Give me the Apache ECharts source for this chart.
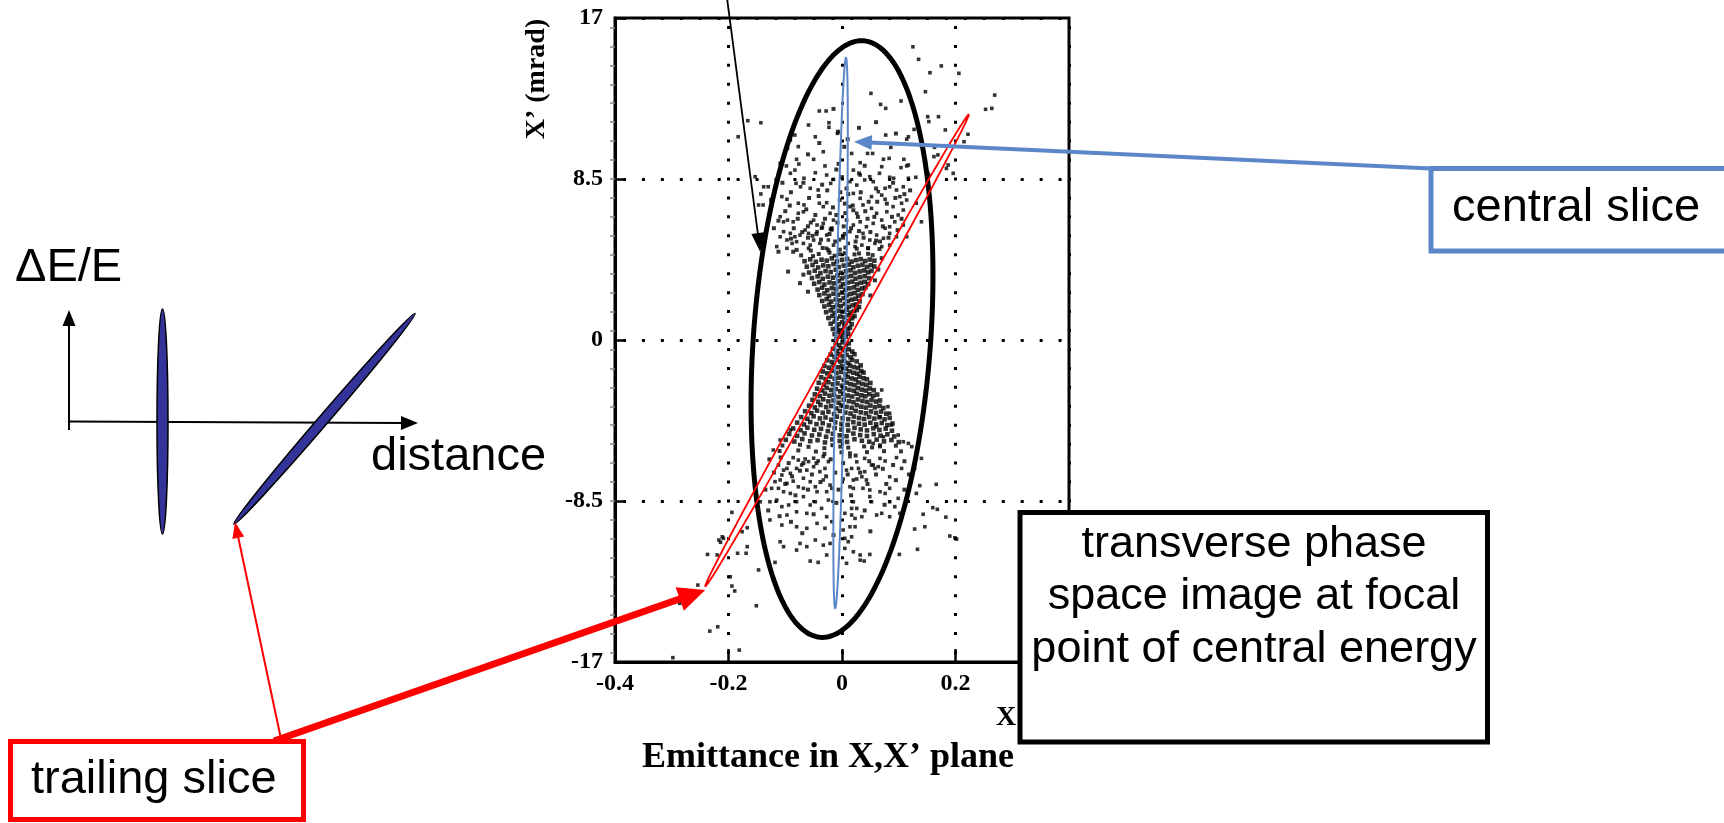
<!DOCTYPE html>
<html>
<head>
<meta charset="utf-8">
<title>Emittance in X,X’ plane</title>
<script src="https://cdn.jsdelivr.net/npm/echarts@6/dist/echarts.min.js"></script>
<style>
  html, body { margin: 0; padding: 0; background: #fff; }
  #chart { width: 1724px; height: 823px; }
</style>
</head>
<body>
<div id="chart"></div>
<script>
// ---- axes ----
const xTicks = [-0.4, -0.2, 0, 0.2, 0.4];          // X (mm)
const yTicks = [-17, -8.5, 0, 8.5, 17];             // X' (mrad)
const yMinorTicks = [-16.5, -15.5, -14.5, -13.5, -12.5, -11.5, -10.5, -9.5, -8.5, -7.5, -6.5, -5.5, -4.5, -3.5, -2.5, -1.5, -0.5,
  0.5, 1.5, 2.5, 3.5, 4.5, 5.5, 6.5, 7.5, 8.5, 9.5, 10.5, 11.5, 12.5, 13.5, 14.5, 15.5, 16.5];

// ---- particles: dense core of the bunch (x in mm, x' in mrad) ----
const corePoints = [
  [-0.010,0.05],[-0.004,0.18],[0.002,0.02],[0.007,0.16],
  [-0.013,0.31],[-0.007,0.44],[-0.001,0.27],[0.005,0.40],[0.011,0.33],
  [-0.016,0.58],[-0.009,0.66],[-0.003,0.52],[0.004,0.71],[0.010,0.57],[0.014,0.64],
  [-0.020,0.86],[-0.013,0.97],[-0.006,0.83],[0.000,0.94],[0.006,0.88],[0.012,1.01],[0.017,0.84],
  [-0.024,1.16],[-0.017,1.27],[-0.010,1.13],[-0.003,1.24],[0.004,1.19],[0.011,1.31],[0.018,1.15],[0.022,1.26],
  [-0.028,1.47],[-0.020,1.56],[-0.013,1.43],[-0.006,1.54],[0.001,1.49],[0.008,1.60],[0.015,1.45],[0.021,1.53],[0.026,1.58],
  [-0.031,1.77],[-0.023,1.86],[-0.016,1.73],[-0.009,1.84],[-0.002,1.79],[0.005,1.91],[0.012,1.75],[0.019,1.83],[0.025,1.88],[0.030,1.74],
  [-0.035,2.06],[-0.027,2.16],[-0.019,2.03],[-0.011,2.14],[-0.004,2.09],[0.003,2.21],[0.010,2.05],[0.017,2.13],[0.024,2.18],[0.031,2.04],
  [-0.040,2.37],[-0.031,2.46],[-0.023,2.33],[-0.015,2.44],[-0.007,2.39],[0.000,2.51],[0.008,2.35],[0.015,2.43],[0.022,2.48],[0.029,2.34],[0.036,2.42],
  [-0.043,2.66],[-0.035,2.76],[-0.026,2.63],[-0.018,2.74],[-0.010,2.69],[-0.002,2.81],[0.006,2.65],[0.013,2.73],[0.021,2.78],[0.028,2.64],[0.035,2.72],[0.041,2.77],
  [-0.049,2.97],[-0.040,3.06],[-0.031,2.93],[-0.022,3.04],[-0.014,2.99],[-0.006,3.11],[0.002,2.95],[0.010,3.03],[0.018,3.08],[0.026,2.94],[0.033,3.02],[0.040,3.07],[0.046,2.96],
  [-0.053,3.27],[-0.043,3.36],[-0.034,3.23],[-0.025,3.34],[-0.016,3.29],[-0.008,3.41],[0.000,3.25],[0.008,3.33],[0.016,3.38],[0.024,3.24],[0.032,3.32],[0.040,3.37],[0.048,3.26],
  [-0.058,3.56],[-0.048,3.66],[-0.038,3.53],[-0.029,3.64],[-0.020,3.59],[-0.011,3.71],[-0.002,3.55],[0.007,3.63],[0.015,3.68],[0.023,3.54],[0.031,3.62],[0.039,3.67],[0.046,3.57],[0.052,3.65],
  [-0.062,3.87],[-0.052,3.96],[-0.042,3.83],[-0.033,3.94],[-0.024,3.89],[-0.015,4.01],[-0.006,3.85],[0.003,3.93],[0.012,3.98],[0.020,3.84],[0.028,3.92],[0.036,3.97],[0.044,3.86],[0.051,3.95],[0.057,3.88],
  [-0.066,4.16],[-0.056,4.26],[-0.046,4.13],[-0.036,4.24],[-0.027,4.19],[-0.018,4.31],[-0.009,4.15],[0.000,4.23],[0.009,4.28],[0.017,4.14],[0.025,4.22],[0.033,4.27],[0.041,4.17],[0.049,4.25],[0.057,4.19],
  [-0.011,-0.16],[-0.005,-0.27],[0.001,-0.12],[0.007,-0.24],[0.012,-0.18],
  [-0.016,-0.47],[-0.009,-0.58],[-0.002,-0.44],[0.005,-0.55],[0.012,-0.49],[0.018,-0.61],
  [-0.020,-0.77],[-0.013,-0.88],[-0.006,-0.74],[0.001,-0.85],[0.008,-0.79],[0.015,-0.91],[0.022,-0.75],
  [-0.026,-1.07],[-0.018,-1.16],[-0.010,-1.03],[-0.003,-1.14],[0.004,-1.09],[0.011,-1.21],[0.018,-1.05],[0.026,-1.13],
  [-0.031,-1.37],[-0.023,-1.46],[-0.015,-1.33],[-0.007,-1.44],[0.000,-1.39],[0.007,-1.51],[0.014,-1.35],[0.021,-1.43],[0.028,-1.48],[0.033,-1.34],
  [-0.034,-1.66],[-0.026,-1.76],[-0.018,-1.63],[-0.010,-1.74],[-0.002,-1.69],[0.006,-1.81],[0.013,-1.65],[0.020,-1.73],[0.027,-1.78],[0.034,-1.64],[0.038,-1.72],
  [-0.037,-1.97],[-0.029,-2.06],[-0.021,-1.93],[-0.013,-2.04],[-0.005,-1.99],[0.003,-2.11],[0.010,-1.95],[0.017,-2.03],[0.024,-2.08],[0.031,-1.94],[0.038,-2.02],[0.044,-2.07],
  [-0.041,-2.26],[-0.032,-2.36],[-0.024,-2.23],[-0.016,-2.34],[-0.008,-2.29],[0.000,-2.41],[0.008,-2.25],[0.015,-2.33],[0.022,-2.38],[0.029,-2.24],[0.036,-2.32],[0.043,-2.37],[0.050,-2.27],
  [-0.044,-2.57],[-0.035,-2.66],[-0.027,-2.53],[-0.019,-2.64],[-0.011,-2.59],[-0.003,-2.71],[0.005,-2.55],[0.013,-2.63],[0.021,-2.68],[0.028,-2.54],[0.035,-2.62],[0.042,-2.67],[0.049,-2.56],[0.056,-2.65],
  [-0.048,-2.87],[-0.039,-2.96],[-0.030,-2.83],[-0.022,-2.94],[-0.014,-2.89],[-0.006,-3.01],[0.002,-2.85],[0.010,-2.93],[0.018,-2.98],[0.026,-2.84],[0.034,-2.92],[0.041,-2.97],[0.048,-2.86],[0.055,-2.95],[0.062,-2.88],
  [-0.052,-3.16],[-0.042,-3.26],[-0.033,-3.13],[-0.024,-3.24],[-0.015,-3.19],[-0.006,-3.31],[0.003,-3.15],[0.012,-3.23],[0.020,-3.28],[0.028,-3.14],[0.036,-3.22],[0.044,-3.27],[0.052,-3.17],[0.060,-3.25],[0.067,-3.19],
  [-0.058,-3.47],[-0.048,-3.56],[-0.038,-3.43],[-0.028,-3.54],[-0.019,-3.49],[-0.010,-3.61],[-0.001,-3.45],[0.008,-3.53],[0.017,-3.58],[0.026,-3.44],[0.034,-3.52],[0.042,-3.57],[0.050,-3.46],[0.058,-3.55],[0.066,-3.48],[0.073,-3.59],
  [-0.065,-3.76],[-0.054,-3.86],[-0.044,-3.73],[-0.034,-3.84],[-0.024,-3.79],[-0.014,-3.91],[-0.004,-3.75],[0.006,-3.83],[0.015,-3.88],[0.024,-3.74],[0.033,-3.82],[0.042,-3.87],[0.051,-3.77],[0.060,-3.85],[0.069,-3.78],[0.078,-3.89],
  [-0.072,-4.07],[-0.061,-4.16],[-0.050,-4.03],[-0.039,-4.14],[-0.029,-4.09],[-0.019,-4.21],[-0.009,-4.05],[0.001,-4.13],[0.011,-4.18],[0.021,-4.04],[0.030,-4.12],[0.039,-4.17],[0.048,-4.06],[0.057,-4.15],[0.066,-4.08],[0.075,-4.19],[0.084,-4.11],
  [-0.079,-4.36],[-0.067,-4.46],[-0.056,-4.33],[-0.045,-4.44],[-0.034,-4.39],[-0.023,-4.51],[-0.012,-4.35],[-0.001,-4.43],[0.010,-4.48],[0.020,-4.34],[0.030,-4.42],[0.040,-4.47],[0.050,-4.37],[0.060,-4.45],[0.070,-4.38],[0.080,-4.49],[0.089,-4.41],
  [-0.086,-4.67],[-0.073,-4.76],[-0.061,-4.63],[-0.049,-4.74],[-0.037,-4.69],[-0.025,-4.81],[-0.013,-4.65],[-0.001,-4.73],[0.011,-4.78],[0.022,-4.64],[0.033,-4.72],[0.044,-4.77],[0.055,-4.66],[0.066,-4.75],[0.077,-4.68],[0.088,-4.79],
  [-0.093,-4.96],[-0.079,-5.06],[-0.066,-4.93],[-0.053,-5.04],[-0.040,-4.99],[-0.028,-5.11],[-0.016,-4.95],[-0.004,-5.03],[0.008,-5.08],[0.020,-4.94],[0.032,-5.02],[0.044,-5.07],[0.056,-4.97],[0.068,-5.05],[0.080,-4.98],[0.092,-5.09],
  [-0.099,-5.27],[-0.084,-5.36],[-0.070,-5.23],[-0.056,-5.34],[-0.043,-5.29],[-0.030,-5.41],[-0.017,-5.25],[-0.004,-5.33],[0.009,-5.38],[0.022,-5.24],[0.035,-5.32],[0.048,-5.37],[0.061,-5.26],[0.074,-5.35],[0.087,-5.28],[0.100,-5.39]
];

// ---- particles: the looser shoulders of both lobes ----
const shoulderPoints = [
  [-0.072,4.47],[-0.051,4.43],[-0.041,4.54],[-0.022,4.61],[-0.013,4.45],[-0.004,4.53],[0.005,4.58],[0.022,4.52],[0.030,4.57],[0.046,4.55],[0.054,4.48],
  [-0.080,4.76],[-0.055,4.72],[-0.034,4.86],[-0.024,4.74],[-0.004,4.77],[0.006,4.88],[0.026,4.82],[0.046,4.85],[0.066,4.80],
  [-0.112,4.66],[-0.086,4.66],[-0.095,3.61],[-0.074,3.00],[0.070,4.32],[0.064,3.72],[-0.068,3.45],[0.058,3.15],[-0.060,2.55],[0.050,2.35],
  [-0.090,5.35],[-0.060,5.40],[-0.005,5.30],[0.005,5.60],[-0.020,5.85],[0.030,5.75],[-0.045,5.60],[0.060,5.25],[0.003,6.00],[-0.010,6.60],
  [0.005,7.20],[-0.003,7.80],[0.000,8.60],[-0.006,9.30],[0.004,10.20],[-0.007,11.00],[-0.035,5.95],[0.045,6.40],[-0.060,6.00],[0.020,6.85],
  [-0.120,5.9],[-0.112,6.3],[-0.100,6.8],[-0.092,7.1],[-0.085,5.9],[-0.078,6.4],[-0.070,5.7],[-0.063,6.9],[-0.058,7.5],[-0.052,5.5],
  [-0.047,6.6],[-0.041,7.6],[-0.037,5.3],[-0.030,6.4],[-0.026,7.9],[-0.022,5.6],[-0.016,7.0],[-0.012,5.2],[-0.008,6.2],[-0.004,7.4],
  [0.002,5.4],[0.006,6.7],[0.011,7.7],[0.016,5.9],[0.019,7.1],[0.024,5.2],[0.028,6.5],[0.033,7.8],[0.038,5.4],[0.041,6.8],
  [0.047,7.3],[0.050,5.7],[0.057,6.5],[0.062,7.3],[0.067,5.2],[0.072,6.0],[0.079,7.2],[0.082,5.4],[0.088,6.5],[0.094,7.5],
  [0.098,5.8],[0.105,6.4],[0.110,7.7],[-0.125,7.4],[-0.118,8.0],[-0.105,8.3],[-0.090,7.8],[-0.068,8.3],[-0.055,6.2],[-0.035,8.2],
  [-0.018,5.9],[0.008,8.0],[0.030,8.8],[0.060,8.0],[0.090,8.3],[0.120,7.9],[-0.010,9.0],[0.040,9.2],[-0.060,9.8],[0.010,10.6],
  [-0.040,10.4],[0.030,11.2],[-0.015,12.2],[0.060,11.5],[0.095,10.9],
  [-0.105,-5.57],[-0.074,-5.53],[-0.059,-5.64],[-0.031,-5.71],[-0.017,-5.55],[-0.003,-5.63],[0.011,-5.68],[0.039,-5.62],[0.053,-5.67],[0.067,-5.56],[0.095,-5.58],
  [-0.110,-5.86],[-0.077,-5.83],[-0.046,-5.89],[-0.031,-6.01],[-0.001,-5.93],[0.014,-5.98],[0.044,-5.92],[0.074,-5.87],[0.104,-5.88],
  [-0.128,-6.3],[-0.120,-7.0],[-0.108,-6.2],[-0.100,-7.6],[-0.094,-6.5],[-0.088,-7.2],[-0.082,-8.2],[-0.074,-6.9],[-0.068,-6.5],[-0.060,-7.9],
  [-0.053,-7.1],[-0.045,-6.5],[-0.038,-7.5],[-0.028,-7.2],[-0.020,-6.3],[-0.012,-7.0],[-0.006,-7.9],[0.002,-6.5],[0.010,-7.1],[0.016,-8.2],
  [0.024,-6.1],[0.032,-7.0],[0.045,-7.6],[0.048,-6.4],[0.060,-7.1],[0.072,-6.8],[0.078,-7.6],[0.090,-6.6],[0.095,-7.4],[0.110,-6.4],
  [0.118,-7.1],[-0.135,-7.9],[-0.130,-9.0],[-0.110,-9.3],[-0.090,-9.6],[-0.050,-9.2],[-0.010,-8.6],[0.040,-9.0],[0.075,-8.7],[0.110,-7.9],
  [-0.015,-10.3],[-0.070,-10.2],[0.050,-10.1]
];

// ---- particles: sparse halo around the core ----
const haloPoints = [
  [-0.166,11.58],[-0.143,11.47],[-0.183,10.73],[-0.153,8.62],[-0.138,8.09],[-0.130,8.09],[-0.143,7.71],[-0.147,7.13],[-0.139,7.13],[-0.115,8.48],
  [-0.040,12.09],[-0.028,12.09],[-0.023,11.47],[-0.023,11.23],[-0.059,11.35],[-0.008,10.91],[-0.047,10.73],[-0.091,10.56],[-0.096,10.12],[-0.083,10.82],
  [-0.077,10.21],[-0.033,9.94],[-0.109,9.33],[-0.098,9.19],[-0.080,9.54],[-0.076,9.29],[-0.050,9.54],[-0.030,9.19],[-0.083,8.97],[-0.091,8.80],
  [-0.067,8.54],[-0.047,8.83],[-0.027,8.71],[-0.015,8.48],[-0.020,8.27],[-0.081,8.27],[-0.073,8.09],[-0.056,8.01],[-0.042,7.92],[-0.106,7.57],
  [-0.097,7.43],[-0.077,7.22],[-0.067,7.13],[-0.040,7.22],[-0.033,7.04],[-0.027,7.25],[-0.077,6.69],[-0.068,6.77],[-0.109,6.51],[-0.103,6.24],
  [-0.096,6.33],[-0.086,6.24],[-0.050,6.33],[-0.044,6.07],[-0.033,6.16],[-0.021,6.69],[-0.015,6.33],
  [-0.103,5.72],[-0.091,5.63],[-0.083,5.45],[-0.074,5.54],[-0.065,5.81],[-0.059,5.63],[-0.050,5.28],[-0.044,5.72],[-0.036,5.90],[-0.027,5.54],
  [-0.018,5.81],[-0.097,5.28],[-0.088,5.10],[-0.080,5.19],[-0.068,5.10],[-0.056,5.01],[-0.039,5.10],[-0.024,5.28],[-0.015,5.01],[-0.109,5.45],
  [-0.115,4.93],[-0.097,4.84],[-0.059,4.84],[-0.027,4.84],
  [0.125,15.48],[0.135,14.82],[0.175,14.47],[0.206,14.08],[0.155,14.11],[0.051,13.02],[0.104,12.62],[0.147,13.11],[0.068,12.44],[0.077,12.23],
  [0.269,12.93],[0.253,12.18],[0.264,12.23],[0.151,11.79],[0.170,11.79],[0.153,11.53],[0.182,11.09],[0.127,11.12],[0.117,10.73],[0.114,10.60],
  [0.077,10.82],[0.215,10.47],[0.222,10.86],[0.140,10.24],[0.163,10.17],[0.086,10.17],[0.017,9.85],[0.045,9.85],[0.054,9.85],[0.169,9.77],
  [0.162,9.68],[0.032,9.36],[0.073,9.54],[0.083,9.59],[0.109,9.54],[0.114,9.19],[0.117,9.24],[0.070,9.15],[0.104,9.10],[0.151,8.83],
  [0.153,8.71],[0.187,9.24],[0.184,9.06],[0.196,8.80],[0.020,8.97],[0.032,8.71],[0.049,8.62],[0.055,8.36],[0.066,8.80],[0.084,8.59],
  [0.091,8.54],[0.117,8.54],[0.130,8.59],[0.014,8.36],[0.026,8.18],[0.040,8.45],[0.076,8.01],[0.084,8.09],[0.096,7.92],[0.108,8.09],
  [0.020,7.74],[0.032,7.48],[0.052,7.57],[0.064,7.83],[0.070,7.65],[0.076,7.43],[0.102,7.57],[0.114,7.39],[0.105,7.22],[0.131,7.22],
  [0.014,7.04],[0.026,6.69],[0.037,7.13],[0.052,6.95],[0.061,6.69],[0.079,6.77],[0.090,7.04],[0.099,6.60],[0.108,6.86],[0.140,6.24],
  [0.008,6.33],[0.020,6.07],[0.032,6.24],[0.043,5.98],[0.055,6.16],[0.070,6.33],[0.076,5.90],[0.084,5.98],[0.093,6.24],[0.108,6.07],
  [0.014,5.72],[0.026,5.45],[0.037,5.63],[0.049,5.28],[0.061,5.54],[0.073,5.37],[0.084,5.63],[0.096,5.45],[0.114,5.45],
  [0.011,5.10],[0.023,4.93],[0.035,5.01],[0.046,4.84],[0.058,5.10],[0.070,4.93],[0.084,5.01],
  [0.070,-2.64],[0.081,-3.52],[0.084,-3.87],[0.087,-4.49],[0.099,-5.02],[0.108,-5.37],[0.117,-5.46],[0.123,-5.63],[0.067,-4.05],[0.061,-4.58],
  [0.073,-5.11],[0.055,-5.46],[0.067,-5.63],[-0.091,-4.75],[-0.109,-5.28],[-0.121,-5.81],
  [-0.086,-6.21],[-0.077,-6.34],[-0.065,-6.28],[-0.059,-6.42],[-0.050,-6.24],[-0.042,-6.38],[-0.033,-6.15],[-0.024,-6.42],
  [-0.112,-6.60],[-0.103,-6.87],[-0.097,-6.78],[-0.106,-7.13],[-0.091,-7.04],[-0.080,-6.78],[-0.071,-6.60],[-0.062,-6.87],[-0.050,-6.69],[-0.039,-6.95],[-0.030,-6.78],
  [-0.118,-7.48],[-0.109,-7.39],[-0.097,-7.57],[-0.086,-7.45],[-0.077,-7.75],[-0.068,-7.30],[-0.056,-7.48],[-0.047,-7.75],[-0.033,-7.39],[-0.021,-7.66],
  [-0.124,-7.83],[-0.112,-7.83],[-0.103,-8.01],[-0.091,-8.10],[-0.068,-7.83],[-0.044,-8.01],[-0.027,-8.01],[-0.018,-7.83],
  [-0.144,-8.54],[-0.127,-8.54],[-0.115,-8.45],[-0.106,-8.80],[-0.094,-8.71],[-0.080,-8.54],[-0.068,-8.27],[-0.056,-8.71],[-0.047,-8.54],[-0.036,-8.89],[-0.024,-8.45],
  [-0.127,-9.50],[-0.097,-9.24],[-0.080,-9.07],[-0.062,-9.15],[-0.027,-9.33],[-0.018,-9.59],
  [-0.106,-9.77],[-0.080,-9.86],[-0.062,-9.94],[-0.044,-9.68],[-0.030,-9.94],
  [-0.109,-10.65],[-0.103,-10.91],[-0.074,-10.74],[-0.080,-11.09],[-0.062,-10.91],[-0.047,-10.56],[-0.033,-10.83],[-0.021,-10.74],
  [-0.056,-11.67],[-0.042,-11.74],[-0.027,-11.35],[-0.118,-11.74],[-0.147,-12.14],
  [-0.211,-10.39],[-0.217,-10.56],[-0.209,-10.47],[-0.214,-10.68],
  [-0.194,-9.10],[-0.167,-9.91],[-0.176,-10.12],[-0.167,-10.91],[-0.184,-11.26],[-0.169,-11.26],[-0.237,-11.32],[-0.220,-11.35],
  [-0.197,-12.50],[-0.194,-12.99],[-0.189,-13.25],[-0.254,-12.94],[-0.286,-13.90],[-0.151,-14.03],[-0.233,-15.37],[-0.219,-15.14],[-0.181,-16.37],[-0.298,-16.77],
  [0.014,-6.16],[0.026,-6.43],[0.040,-6.25],[0.055,-6.60],[0.067,-6.25],[0.076,-6.39],[0.096,-6.21],[0.140,-6.25],[0.128,-6.78],
  [0.008,-6.87],[0.017,-6.78],[0.029,-6.78],[0.040,-6.95],[0.052,-6.60],[0.058,-6.78],[0.064,-6.69],[0.035,-7.22],[0.043,-7.39],[0.020,-7.39],
  [0.026,-7.34],[0.002,-7.34],[0.084,-7.22],[0.105,-6.78],
  [0.014,-7.75],[0.020,-7.83],[0.037,-7.83],[0.049,-7.92],[0.067,-8.01],[0.084,-7.83],[0.076,-8.10],[0.137,-7.69],[0.166,-7.62],
  [0.049,-8.27],[0.052,-8.54],[0.020,-8.54],[0.084,-8.54],[0.099,-8.36],[0.114,-8.45],[0.131,-8.10],
  [0.005,-9.15],[0.017,-8.89],[0.026,-8.89],[0.017,-9.24],[0.023,-9.42],[0.035,-9.33],[0.061,-9.24],[0.070,-9.15],[0.084,-9.33],[0.093,-8.80],
  [0.102,-9.15],[0.143,-9.20],[0.160,-8.85],[0.168,-8.94],[0.183,-9.35],
  [0.002,-10.03],[0.014,-9.86],[0.023,-9.86],[0.128,-9.98],[0.146,-9.86],[0.190,-10.35],[0.199,-10.44],[0.202,-10.51],
  [0.005,-10.47],[0.017,-10.39],[0.011,-10.65],[0.005,-11.00],[0.020,-11.18],[0.032,-11.35],[0.049,-11.32],[0.032,-11.62],[0.039,-11.67],[0.008,-11.79],
  [0.101,-11.32],[0.133,-11.05]
];

// ---- phase-space ellipses: centre, cos-term vector, sin-term vector (mm, mrad) ----
const acceptanceEllipse = { centre: [0.0, 0.05],     cosTerm: [0.1565, 0.0],  sinTerm: [0.0345, 15.75] };
const centralSlice      = { centre: [-0.0025, 0.37], cosTerm: [0.0085, 0.0],  sinTerm: [0.0095, 14.53] };
const trailingSlice     = { centre: [-0.00875, -0.55], cosTerm: [0.232, 12.45], sinTerm: [0.0074, -0.124] };

// ---- callout targets (data coordinates) ----
const centralArrowTip  = [0.021, 10.47];
const trailingArrowTip = [-0.241, -13.2];
const ellipseArrowTip  = [-0.144, 4.65];

const SANS = '"Liberation Sans", Arial, sans-serif';
const SERIF = '"Liberation Serif", "Times New Roman", serif';
const BLUE = '#5b87c9';
const RED = '#ff0000';
const SLICE_FILL = '#333399';

function ellipseSeries(e, color, width, z) {
  return {
    type: 'custom',
    coordinateSystem: 'cartesian2d',
    xAxisIndex: 0, yAxisIndex: 0,
    silent: true, clip: false, z: z,
    data: [[e.centre[0], e.centre[1], e.cosTerm[0], e.cosTerm[1], e.sinTerm[0], e.sinTerm[1]]],
    encode: { x: 0, y: 1 },
    renderItem: function (params, api) {
      const cx = api.value(0), cy = api.value(1);
      const ux = api.value(2), uy = api.value(3), vx = api.value(4), vy = api.value(5);
      const pts = [];
      for (let i = 0; i < 240; i++) {
        const t = i / 240 * Math.PI * 2;
        pts.push(api.coord([cx + ux * Math.cos(t) + vx * Math.sin(t), cy + uy * Math.cos(t) + vy * Math.sin(t)]));
      }
      return { type: 'polygon', shape: { points: pts }, style: { fill: 'none', stroke: color, lineWidth: width } };
    }
  };
}

const dotted = { color: '#000', width: 3, type: [3, 15.94], dashOffset: 10.97 };
const tickFont = { color: '#000', fontFamily: SERIF, fontWeight: 'bold', fontSize: 24 };

const chart = echarts.init(document.getElementById('chart'), null, { renderer: 'canvas' });

chart.setOption({
  animation: false,
  backgroundColor: '#ffffff',
  grid: { left: 615, top: 18, width: 454, height: 644, show: true, borderColor: '#000', borderWidth: 3, backgroundColor: 'transparent' },
  xAxis: {
    type: 'value', min: xTicks[0], max: xTicks[xTicks.length - 1], interval: xTicks[1] - xTicks[0],
    axisLine: { show: true, onZero: false, lineStyle: { color: '#000', width: 3 } },
    axisTick: { show: true, inside: true, length: 13, lineStyle: { color: '#000', width: 2.5 } },
    axisLabel: Object.assign({ margin: 10 }, tickFont),
    splitLine: { show: true, lineStyle: dotted }
  },
  yAxis: [
    {
      type: 'value', min: yTicks[0], max: yTicks[yTicks.length - 1], interval: yTicks[1] - yTicks[0],
      axisLine: { show: true, onZero: false, lineStyle: { color: '#000', width: 3 } },
      axisTick: { show: true, inside: true, length: 11, lineStyle: { color: '#000', width: 2.5 } },
      axisLabel: Object.assign({ margin: 12 }, tickFont),
      splitLine: { show: true, lineStyle: dotted }
    },
    {
      type: 'value', min: yTicks[0], max: yTicks[yTicks.length - 1], position: 'left',
      axisLine: { show: false, onZero: false }, axisLabel: { show: false }, splitLine: { show: false },
      axisTick: { show: true, inside: false, length: 5, customValues: yMinorTicks, lineStyle: { color: '#888', width: 1.5 } }
    }
  ],
  series: [
    {
      type: 'scatter', xAxisIndex: 0, yAxisIndex: 0, silent: true, z: 2,
      symbol: 'rect', symbolSize: 4.6, itemStyle: { color: '#000' },
      data: corePoints
    },
    {
      type: 'scatter', xAxisIndex: 0, yAxisIndex: 0, silent: true, z: 2,
      symbol: 'rect', symbolSize: 4, itemStyle: { color: '#000' },
      data: shoulderPoints
    },
    {
      type: 'scatter', xAxisIndex: 0, yAxisIndex: 0, silent: true, z: 2,
      symbol: 'rect', symbolSize: 3.6, itemStyle: { color: '#000' },
      data: haloPoints
    },
    ellipseSeries(acceptanceEllipse, '#000', 5, 5),
    ellipseSeries(centralSlice, BLUE, 2, 6),
    ellipseSeries(trailingSlice, RED, 1.8, 7)
  ]
});

// ---- annotations ----
function arrow(from, to, color, width, headLen, headWid, z) {
  const dx = to[0] - from[0], dy = to[1] - from[1];
  const len = Math.hypot(dx, dy);
  const ux = dx / len, uy = dy / len;
  const bx = to[0] - ux * headLen, by = to[1] - uy * headLen;
  const nx = -uy * headWid / 2, ny = ux * headWid / 2;
  return [
    { type: 'line', z: z, silent: true, shape: { x1: from[0], y1: from[1], x2: bx + ux * 2, y2: by + uy * 2 }, style: { stroke: color, lineWidth: width } },
    { type: 'polygon', z: z, silent: true, shape: { points: [[to[0], to[1]], [bx + nx, by + ny], [bx - nx, by - ny]] }, style: { fill: color } }
  ];
}
function label(text, x, y, opts) {
  return Object.assign({ type: 'text', z: 120, silent: true, x: x, y: y,
    style: Object.assign({ text: text, fill: '#000', font: '47px ' + SANS, textAlign: 'left', textVerticalAlign: 'middle' }, opts || {}) });
}
function box(x, y, w, h, color) {
  return { type: 'rect', z: 110, silent: true, shape: { x: x, y: y, width: w, height: h }, style: { fill: '#fff', stroke: color, lineWidth: 5 } };
}

const px = p => chart.convertToPixel({ gridIndex: 0 }, p);

const graphics = [].concat(
  // axis captions of the phase-space plot
  [{ type: 'text', z: 20, silent: true, x: 537, y: 79, rotation: Math.PI / 2,
     style: { text: 'X’ (mrad)', fill: '#000', font: 'bold 28px ' + SERIF, textAlign: 'center', textVerticalAlign: 'middle' } },
   { type: 'text', z: 20, silent: true, x: 996, y: 718,
     style: { text: 'X (mm)', fill: '#000', font: 'bold 28px ' + SERIF, textAlign: 'left', textVerticalAlign: 'middle' } },
   { type: 'text', z: 20, silent: true, x: 828, y: 758,
     style: { text: 'Emittance in X,X’ plane', fill: '#000', font: 'bold 36px ' + SERIF, textAlign: 'center', textVerticalAlign: 'middle' } }],

  // bunch sketch: ΔE/E versus distance
  arrow([69, 430], [69, 310], '#000', 2, 16, 13, 30),
  arrow([69, 421.5], [418, 423], '#000', 2, 17, 14, 30),
  [{ type: 'ellipse', z: 31, silent: true, x: 162.5, y: 421.5, shape: { cx: 0, cy: 0, rx: 5.5, ry: 112.5 },
     style: { fill: SLICE_FILL, stroke: '#000', lineWidth: 1.5 } },
   { type: 'ellipse', z: 31, silent: true, x: 324.5, y: 418.8, rotation: 49.3 * Math.PI / 180, shape: { cx: 0, cy: 0, rx: 139, ry: 5 },
     style: { fill: SLICE_FILL, stroke: '#000', lineWidth: 1.5 } },
   label('ΔE/E', 15, 268),
   label('distance', 371, 457)],

  // callouts
  arrow([727, -2], px(ellipseArrowTip), '#000', 1.8, 19, 13, 40),
  arrow([1431, 168.5], px(centralArrowTip), BLUE, 4, 18, 15, 40),
  arrow([281, 739], [235, 522], RED, 2, 16, 12, 40),
  arrow([274, 741], px(trailingArrowTip), RED, 7, 27, 25, 40),

  [box(1431, 168.5, 400, 82.5, BLUE),
   label('central slice', 1452, 208),
   box(1020, 512.5, 467.5, 229.5, '#000'),
   label('transverse phase', 1254, 545, { font: '45px ' + SANS, textAlign: 'center' }),
   label('space image at focal', 1254, 597, { font: '45px ' + SANS, textAlign: 'center' }),
   label('point of central energy', 1254, 650, { font: '45px ' + SANS, textAlign: 'center' }),
   box(10.5, 741.5, 293, 78, RED),
   label('trailing slice', 31, 780)]
);

chart.setOption({ graphic: { elements: graphics } });
</script>
</body>
</html>
